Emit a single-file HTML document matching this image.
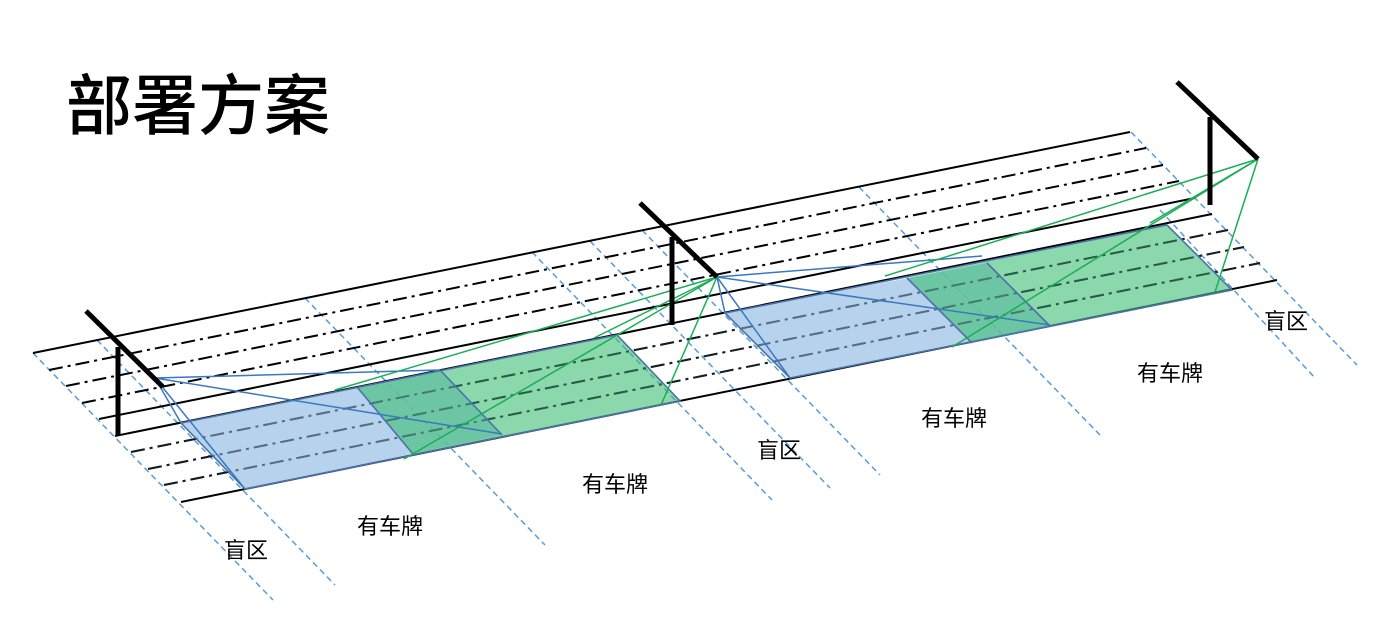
<!DOCTYPE html>
<html><head><meta charset="utf-8"><style>
html,body{margin:0;padding:0;background:#fff}
svg{display:block}
text{font-family:"Liberation Sans","Noto Sans CJK SC",sans-serif}
</style></head><body>
<svg width="1398" height="638" viewBox="0 0 1398 638" xmlns="http://www.w3.org/2000/svg">
<text x="66" y="129" font-size="66" font-weight="500" fill="#000">部署方案</text>

<g stroke="#5b9bd5" stroke-width="1.5" stroke-dasharray="6 4" fill="none">
<line x1="33" y1="353" x2="273" y2="600"/>
<line x1="97" y1="340" x2="335" y2="585"/>
<line x1="305" y1="298" x2="545" y2="545"/>
<line x1="532" y1="252" x2="772" y2="500"/>
<line x1="590" y1="241" x2="830" y2="488"/>
<line x1="642" y1="230" x2="880" y2="475"/>
<line x1="859" y1="187" x2="1100" y2="435"/>
<line x1="1131" y1="132" x2="1357" y2="365"/>
<line x1="1160" y1="210" x2="1315" y2="378"/>
</g>

<g stroke="#000" stroke-width="2" fill="none">
<line x1="33" y1="353" x2="1130" y2="132"/>
<line x1="99" y1="419" x2="1195" y2="198"/>
<line x1="115" y1="436" x2="1212" y2="214"/>
<line x1="181" y1="502" x2="1277" y2="280"/>
</g>
<g stroke="#000" stroke-width="2" fill="none" stroke-dasharray="14 5 3 5">
<line x1="49" y1="370" x2="1146" y2="148"/>
<line x1="66" y1="386" x2="1163" y2="165"/>
<line x1="82" y1="403" x2="1179" y2="181"/>
<line x1="131" y1="452" x2="1228" y2="230"/>
<line x1="148" y1="469" x2="1244" y2="247"/>
<line x1="164" y1="485" x2="1260" y2="263"/>
</g>

<polygon points="181,423 440,370 502,435 245,489" fill="rgb(157,195,230)" fill-opacity="0.75"/>
<polygon points="357,387 617,335 680,401 413,454" fill="rgb(60,190,115)" fill-opacity="0.6"/>
<polygon points="725,313 987,263 1050,326 790,378" fill="rgb(157,195,230)" fill-opacity="0.75"/>
<polygon points="907,278 1167,225 1232,290 972,343" fill="rgb(60,190,115)" fill-opacity="0.6"/>

<!-- darker dashes visible through fills -->
<g stroke="#2f3f4f" stroke-width="2" fill="none" stroke-dasharray="14 5 3 5" stroke-opacity="0.45">
<line x1="131" y1="452" x2="1228" y2="230"/>
<line x1="148" y1="469" x2="1244" y2="247"/>
<line x1="164" y1="485" x2="1260" y2="263"/>
</g>

<g stroke="#4a72a8" stroke-width="1.6" fill="none">
<polygon points="181,423 617,335 680,401 245,489"/>
<line x1="357" y1="387" x2="413" y2="454"/>
<line x1="440" y1="370" x2="502" y2="435"/>
<polygon points="725,313 1167,225 1232,290 790,378"/>
<line x1="907" y1="278" x2="972" y2="343"/>
<line x1="987" y1="263" x2="1050" y2="326"/>
</g>

<g stroke="#3a78c0" stroke-width="1.5" fill="none">
<line x1="155" y1="378" x2="440" y2="370"/>
<line x1="155" y1="378" x2="502" y2="434"/>
<line x1="155" y1="378" x2="181" y2="423"/>
<line x1="155" y1="378" x2="245" y2="489"/>
<line x1="717" y1="277" x2="982" y2="256"/>
<line x1="717" y1="277" x2="1050" y2="325"/>
<line x1="717" y1="277" x2="725" y2="313"/>
<line x1="717" y1="277" x2="790" y2="378"/>
</g>
<g stroke="#1aae55" stroke-width="1.5" fill="none">
<line x1="717" y1="277" x2="335" y2="390"/>
<line x1="717" y1="277" x2="404" y2="459"/>
<line x1="717" y1="277" x2="594" y2="338"/>
<line x1="717" y1="277" x2="661" y2="405"/>
<line x1="1258" y1="159" x2="885" y2="276"/>
<line x1="1258" y1="159" x2="952" y2="347"/>
<line x1="1258" y1="159" x2="1150" y2="223"/>
<line x1="1258" y1="159" x2="1215" y2="292"/>
</g>

<g stroke="#000" stroke-width="5" fill="none">
<line x1="118" y1="347" x2="118" y2="435"/>
<line x1="86" y1="311" x2="163" y2="387"/>
<line x1="672" y1="237" x2="672" y2="325"/>
<line x1="640" y1="203" x2="717" y2="277"/>
<line x1="1210" y1="117" x2="1210" y2="205"/>
<line x1="1177" y1="82" x2="1258" y2="159"/>
</g>

<g font-size="22" fill="#000" text-anchor="middle">
<text x="246" y="558">盲区</text>
<text x="390" y="534">有车牌</text>
<text x="615" y="492">有车牌</text>
<text x="779" y="458">盲区</text>
<text x="954" y="426">有车牌</text>
<text x="1170" y="381">有车牌</text>
<text x="1286" y="329">盲区</text>
</g>
</svg>
</body></html>
